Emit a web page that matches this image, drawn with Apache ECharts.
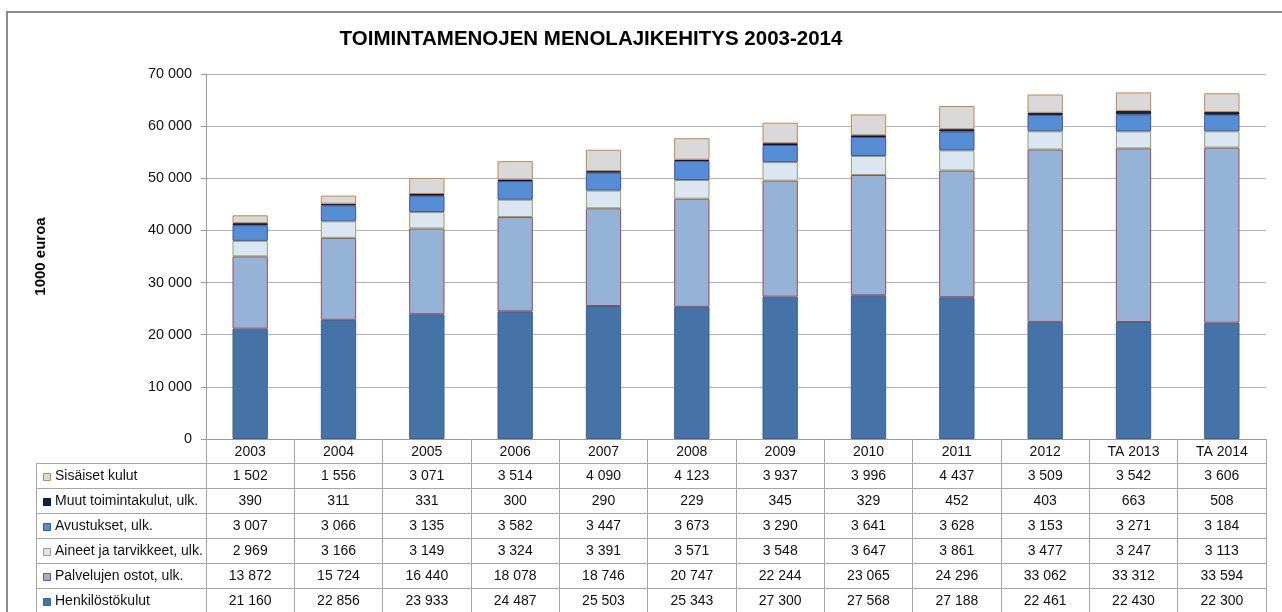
<!DOCTYPE html>
<html>
<head>
<meta charset="utf-8">
<script src="https://cdn.jsdelivr.net/npm/echarts@6/dist/echarts.min.js"></script>
<style>
  html, body { margin: 0; padding: 0; background: #fff; }
  #chart { width: 1282px; height: 612px; }
</style>
</head>
<body>
<div id="chart"></div>
<script>
const categories = ['2003', '2004', '2005', '2006', '2007', '2008', '2009', '2010', '2011', '2012', 'TA 2013', 'TA 2014'];
const henkilosto = [21160, 22856, 23933, 24487, 25503, 25343, 27300, 27568, 27188, 22461, 22430, 22300];
const palvelut = [13872, 15724, 16440, 18078, 18746, 20747, 22244, 23065, 24296, 33062, 33312, 33594];
const aineet = [2969, 3166, 3149, 3324, 3391, 3571, 3548, 3647, 3861, 3477, 3247, 3113];
const avustukset = [3007, 3066, 3135, 3582, 3447, 3673, 3290, 3641, 3628, 3153, 3271, 3184];
const muut = [390, 311, 331, 300, 290, 229, 345, 329, 452, 403, 663, 508];
const sisaiset = [1502, 1556, 3071, 3514, 4090, 4123, 3937, 3996, 4437, 3509, 3542, 3606];
const yTicks = [0, 10000, 20000, 30000, 40000, 50000, 60000, 70000];

// bottom to top in the bars
const seriesDefs = [
  { name: 'Henkilöstökulut', data: henkilosto, fill: '#4572A7', line: '#3A6090' },
  { name: 'Palvelujen ostot, ulk.', data: palvelut, fill: '#95B3D7', line: '#9E4A50' },
  { name: 'Aineet ja tarvikkeet, ulk.', data: aineet, fill: '#DCE6F2', line: '#8AA564' },
  { name: 'Avustukset, ulk.', data: avustukset, fill: '#558ED5', line: '#4A4E9E' },
  { name: 'Muut toimintakulut, ulk.', data: muut, fill: '#10253F', line: '#0B1A2C' },
  { name: 'Sisäiset kulut', data: sisaiset, fill: '#D9D9D9', line: '#C4864F' }
];
// table rows go top to bottom
const tableRows = seriesDefs.slice().reverse();

const fmt = v => String(v).replace(/\B(?=(\d{3})+(?!\d))/g, ' ');

const W = 1282, H = 612;
const gLeft = 206, gRight = 1266, gTop = 74, gBottom = 439;
const headH = 24, rowH = 25;
const labelX = 36;
const font = 'Liberation Sans, Arial, sans-serif';

const myChart = echarts.init(document.getElementById('chart'), null, { renderer: 'canvas' });

const xAxes = [{
  type: 'category',
  data: categories,
  position: 'bottom',
  axisLine: { lineStyle: { color: '#9a9a9a', width: 1 } },
  axisTick: { show: true, length: H - gBottom, interval: 0, lineStyle: { color: '#a6a6a6' } },
  axisLabel: { interval: 0, margin: headH / 2 + 1, verticalAlign: 'middle', color: '#111', fontSize: 14, fontFamily: font }
}];
tableRows.forEach((r, k) => {
  xAxes.push({
    type: 'category',
    data: categories,
    position: 'bottom',
    offset: headH + rowH * k,
    axisLine: { show: false },
    axisTick: { show: false },
    splitLine: { show: false },
    axisLabel: {
      interval: 0, margin: rowH / 2 + 1, verticalAlign: 'middle', color: '#111', fontSize: 14, fontFamily: font,
      formatter: (v, i) => fmt(r.data[i])
    }
  });
});

const graphics = [];
// outer frame of the chart object
graphics.push({ type: 'polyline', silent: true, shape: { points: [[7, H + 2], [7, 12], [W + 2, 12]] }, style: { stroke: '#8c8c8c', lineWidth: 2, fill: null } });
// table lines
for (let k = 0; k < tableRows.length; k++) {
  const y = gBottom + headH + rowH * k + 0.5;
  graphics.push({ type: 'line', silent: true, shape: { x1: labelX, y1: y, x2: gRight, y2: y }, style: { stroke: '#a6a6a6', lineWidth: 1 } });
}
graphics.push({ type: 'line', silent: true, shape: { x1: labelX + 0.5, y1: gBottom + headH, x2: labelX + 0.5, y2: H }, style: { stroke: '#a6a6a6', lineWidth: 1 } });
// row labels with legend keys
tableRows.forEach((r, k) => {
  const cy = gBottom + headH + rowH * k + rowH / 2 + 1;
  graphics.push({ type: 'rect', silent: true, shape: { x: 43.5, y: Math.round(cy - 4) + 0.5, width: 7, height: 7 }, style: { fill: r.fill, stroke: r.line, lineWidth: 1 } });
  graphics.push({ type: 'text', silent: true, x: 55, y: cy, style: { text: r.name, fill: '#111', font: '14px ' + font, textAlign: 'left', textVerticalAlign: 'middle' } });
});

const options = {
  animation: false,
  title: {
    text: 'TOIMINTAMENOJEN MENOLAJIKEHITYS 2003-2014',
    left: 586, top: 24, textAlign: 'center',
    textStyle: { fontFamily: font, fontSize: 20.5, fontWeight: 'bold', color: '#000' }
  },
  grid: { left: gLeft, right: W - gRight, top: gTop, bottom: H - gBottom, containLabel: false },
  xAxis: xAxes,
  yAxis: {
    type: 'value',
    min: yTicks[0], max: yTicks[yTicks.length - 1], interval: 10000,
    name: '1000 euroa',
    nameLocation: 'middle',
    nameRotate: 90,
    nameGap: 158,
    nameTextStyle: { fontFamily: font, fontSize: 15, fontWeight: 'bold', color: '#000' },
    axisLine: { show: true, lineStyle: { color: '#9a9a9a' } },
    axisTick: { show: true, length: 5, lineStyle: { color: '#9a9a9a' } },
    axisLabel: { margin: 14, color: '#111', fontSize: 14.4, fontFamily: font, formatter: v => fmt(v) },
    splitLine: { lineStyle: { color: '#b4b4b4', width: 1 } }
  },
  series: seriesDefs.map(s => ({
    name: s.name,
    type: 'bar',
    stack: 'menot',
    barWidth: '40%',
    xAxisIndex: 0,
    data: s.data,
    itemStyle: { color: s.fill, borderColor: s.line, borderWidth: 1 }
  })),
  graphic: graphics
};

myChart.setOption(options);
</script>
</body>
</html>
